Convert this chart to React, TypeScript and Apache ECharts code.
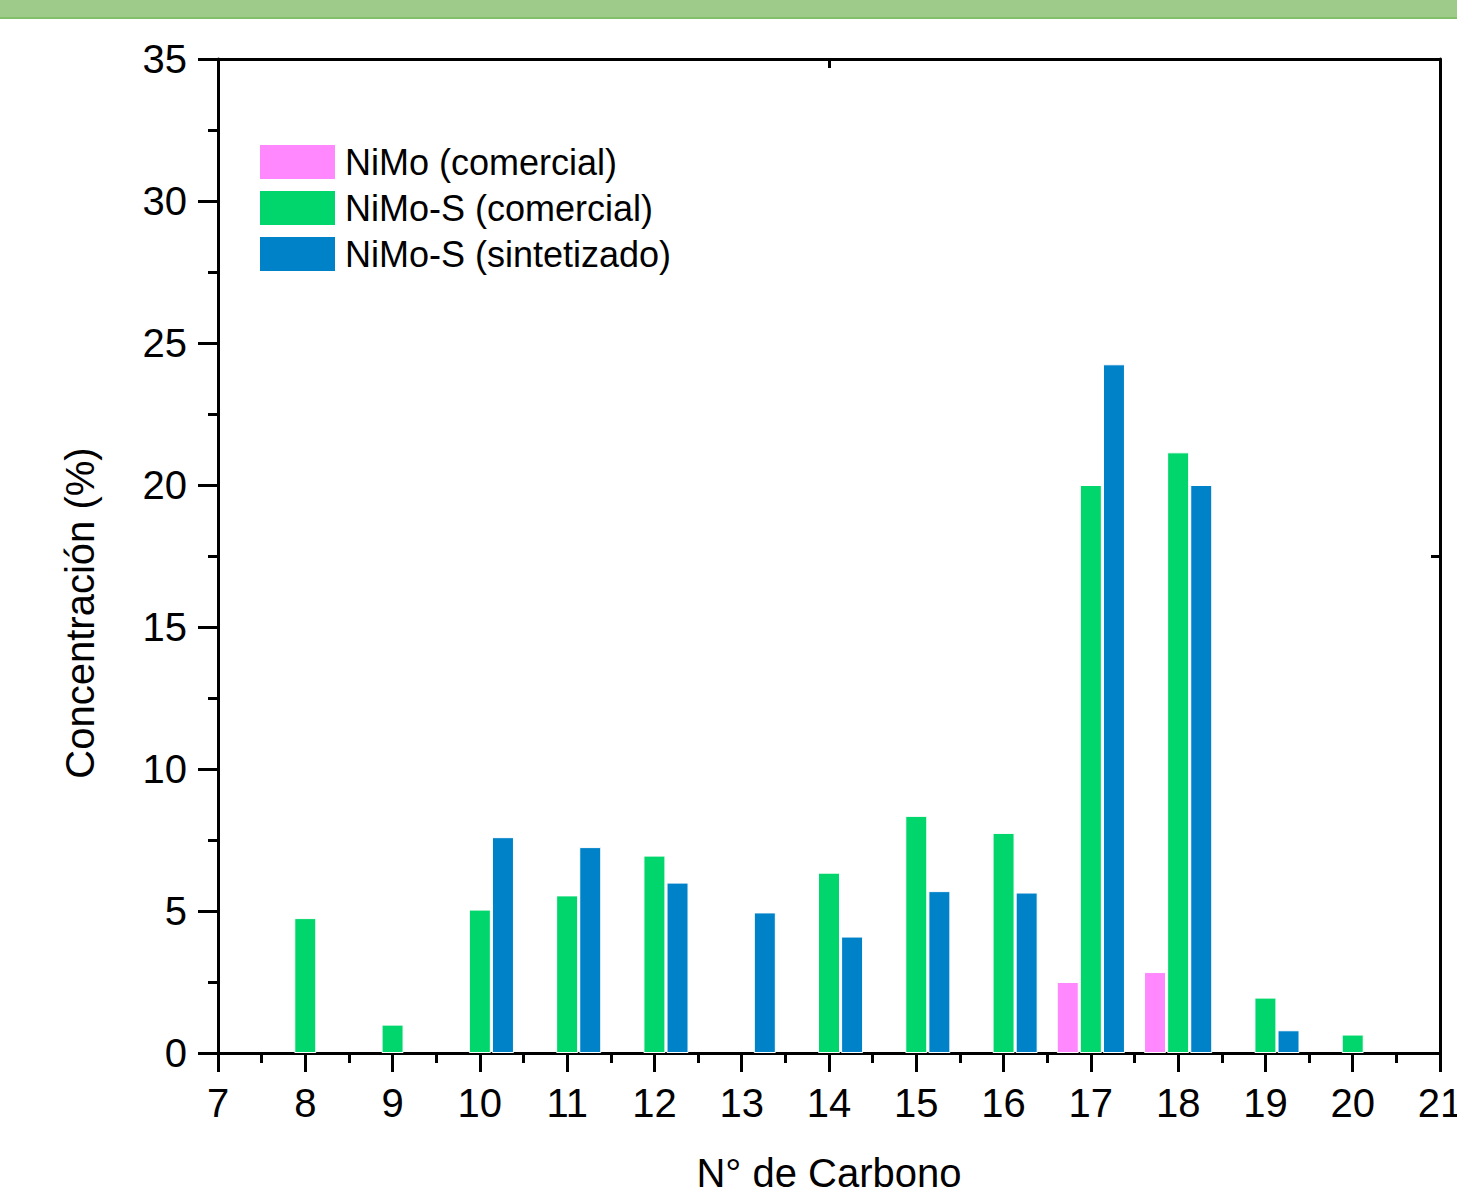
import React, { useEffect, useRef } from "react";
import * as echarts from "echarts";

const carbons = [8, 9, 10, 11, 12, 13, 14, 15, 16, 17, 18, 19, 20];
const nimoComercial: (number | null)[] = [null, null, null, null, null, null, null, null, null, 2.5, 2.85, null, null];
const nimoSComercial: (number | null)[] = [4.75, 1.0, 5.05, 5.55, 6.95, null, 6.35, 8.35, 7.75, 20.0, 21.15, 1.95, 0.65];
const nimoSSintetizado: (number | null)[] = [null, null, 7.6, 7.25, 6.0, 4.95, 4.1, 5.7, 5.65, 24.25, 20.0, 0.8, null];
const seriesNames = ["NiMo (comercial)", "NiMo-S (comercial)", "NiMo-S (sintetizado)"];
const seriesColors = ["#FF88FF", "#00D66B", "#0082C8"];

const toPairs = (vals: (number | null)[]) =>
  carbons.map((c, i) => (vals[i] == null ? null : [c, vals[i]])).filter((d) => d !== null);

export default function App() {
  const ref = useRef<HTMLDivElement>(null);
  useEffect(() => {
    if (!ref.current) return;
    const chart = echarts.init(ref.current, null, { renderer: "svg" });
    const font = "'Liberation Sans', Arial, sans-serif";
    const allData = [nimoComercial, nimoSComercial, nimoSSintetizado];
    chart.setOption({
      animation: false,
      backgroundColor: "#ffffff",
      textStyle: { fontFamily: font },
      graphic: [
        { type: "rect", shape: { x: 0, y: 0, width: 1457, height: 17 }, style: { fill: "#9FCB8A" }, z: 100 },
        { type: "rect", shape: { x: 0, y: 17, width: 1457, height: 2 }, style: { fill: "#82BF6B" }, z: 100 },
      ],
      legend: {
        orient: "vertical",
        left: 258,
        top: 143,
        padding: 0,
        itemWidth: 77,
        itemHeight: 36,
        itemGap: 8,
        icon: "rect",
        textStyle: { fontSize: 36, color: "#000", fontFamily: font, padding: [0, 0, 0, 4] },
        data: seriesNames,
      },
      grid: { left: 218, right: 17, top: 59, bottom: 141, containLabel: false, outerBoundsMode: "none" },
      xAxis: [
        {
          type: "value",
          min: 7,
          max: 21,
          interval: 1,
          position: "bottom",
          name: "N° de Carbono",
          nameLocation: "middle",
          nameGap: 100,
          nameTextStyle: { fontSize: 40, color: "#000", fontFamily: font },
          axisLine: { show: true, onZero: false, lineStyle: { color: "#000", width: 3 } },
          axisTick: { show: true, inside: false, length: 19, lineStyle: { color: "#000", width: 3 } },
          minorTick: { show: true, splitNumber: 2, length: 10, lineStyle: { color: "#000", width: 3 } },
          axisLabel: { fontSize: 40, color: "#000", margin: 30, fontFamily: font },
          splitLine: { show: false },
        },
        {
          type: "value",
          min: 7,
          max: 21,
          interval: 7,
          position: "top",
          axisLine: { show: true, onZero: false, lineStyle: { color: "#000", width: 3 } },
          axisTick: { show: true, inside: true, length: 9, lineStyle: { color: "#000", width: 3 } },
          axisLabel: { show: false },
          splitLine: { show: false },
        },
      ],
      yAxis: [
        {
          type: "value",
          min: 0,
          max: 35,
          interval: 5,
          position: "left",
          name: "Concentración (%)",
          nameLocation: "middle",
          nameGap: 118,
          nameTextStyle: { fontSize: 40, color: "#000", fontFamily: font, padding: [0, 114, 0, 0] },
          axisLine: { show: true, onZero: false, lineStyle: { color: "#000", width: 3 } },
          axisTick: { show: true, inside: false, length: 20, lineStyle: { color: "#000", width: 3 } },
          minorTick: { show: true, splitNumber: 2, length: 10, lineStyle: { color: "#000", width: 3 } },
          axisLabel: { fontSize: 40, color: "#000", margin: 31, fontFamily: font },
          splitLine: { show: false },
        },
        {
          type: "value",
          min: 0,
          max: 35,
          interval: 17.5,
          position: "right",
          axisLine: { show: true, onZero: false, lineStyle: { color: "#000", width: 3 } },
          axisTick: { show: true, inside: true, length: 9, lineStyle: { color: "#000", width: 3 } },
          axisLabel: { show: false },
          splitLine: { show: false },
        },
      ],
      series: seriesNames.map((name, i) => ({
        name,
        type: "bar",
        xAxisIndex: 0,
        yAxisIndex: 0,
        barWidth: 22,
        barGap: "5%",
        itemStyle: { color: seriesColors[i], borderColor: "#ffffff", borderWidth: 1 },
        data: toPairs(allData[i]),
        z: 5,
      })),
    });
    return () => chart.dispose();
  }, []);
  return (
    <div
      ref={ref}
      style={{ position: "absolute", left: 0, top: 0, width: 1457, height: 1194 }}
    />
  );
}
